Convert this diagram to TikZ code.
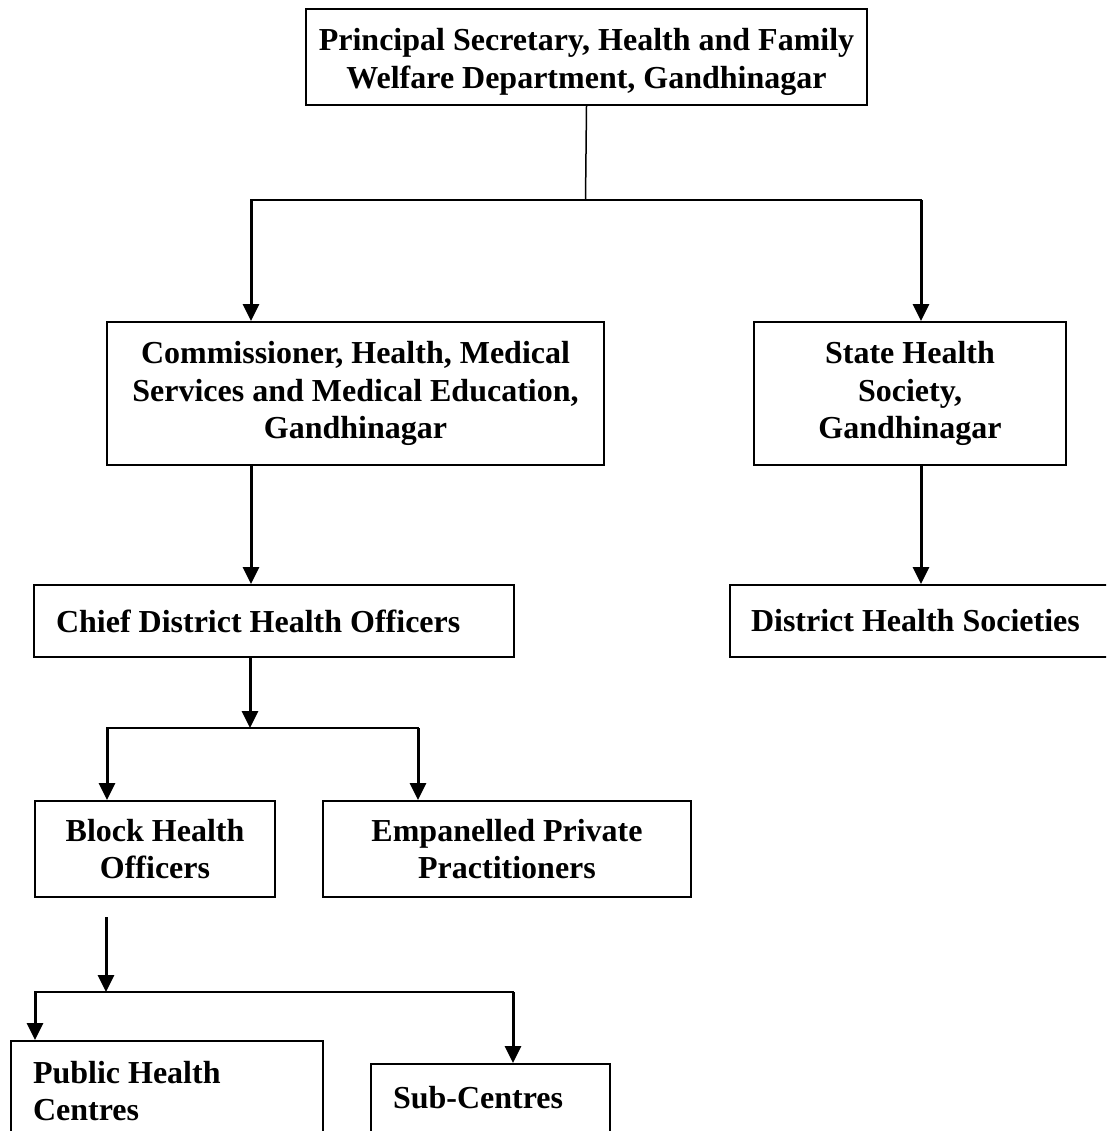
\documentclass[tikz,border=0pt]{standalone}
\usepackage{fontspec}
\setmainfont{Liberation Serif}
\usetikzlibrary{arrows.meta}
\begin{document}
\begin{tikzpicture}[x=1pt,y=-1pt,
  box/.style={draw, line width=2pt, align=center, font=\fontsize{32}{37.5}\selectfont\bfseries, inner sep=0pt},
  arr/.style={line width=3pt, -{Triangle[length=17pt,width=16pt]}},
  lnk/.style={line width=2pt, line cap=rect},
  thinlnk/.style={line width=1.5pt}]
\fill[white] (0,0) rectangle (1106,1131);
\useasboundingbox (0,0) rectangle (1106,1131);
\clip (0,0) rectangle (1106,1131);

\node[box, anchor=north west, minimum width=561pt, minimum height=96pt, text height=70pt] (top) at (305,8)
  {Principal Secretary, Health and Family\\Welfare Department, Gandhinagar};
\node[box, anchor=north west, minimum width=497pt, minimum height=143pt] (comm) at (106,321)
  {Commissioner, Health, Medical\\Services and Medical Education,\\Gandhinagar};
\node[box, anchor=north west, minimum width=312pt, minimum height=143pt] (shs) at (753,321)
  {State Health\\Society,\\Gandhinagar};
\node[box, anchor=north west, minimum height=72pt, text width=436pt, inner xsep=22pt, align=flush left] (chief) at (33,584)
  {Chief District Health Officers};
\node[box, anchor=north west, minimum height=72pt, text width=360pt, inner xsep=21pt, align=flush left] (dhs) at (729,584)
  {District Health Societies};
\node[box, anchor=north west, minimum width=240pt, minimum height=96pt] (block) at (34,800)
  {Block Health\\Officers};
\node[box, anchor=north west, minimum width=368pt, minimum height=96pt] (emp) at (322,800)
  {Empanelled Private\\Practitioners};
\node[box, anchor=north west, minimum height=100pt, text width=268pt, inner xsep=22pt, align=flush left] (phc) at (10,1040)
  {Public Health\\Centres};
\node[box, anchor=north west, text width=195pt, inner xsep=22pt, inner ysep=10pt, text height=34pt, text depth=60pt, align=flush left] (sub) at (370,1063)
  {Sub-Centres};

\coordinate (j1) at (585.5,200);
\coordinate (b1l) at (251,200);
\coordinate (b1r) at (921,200);
\draw[thinlnk] (top.south) -- (j1);
\draw[lnk] (b1l) -- (b1r);
\draw[arr] (b1l) -- (b1l |- comm.north);
\draw[arr] (b1r) -- (b1r |- shs.north);
\draw[arr] (comm.south -| b1l) -- (chief.north -| b1l);
\draw[arr] (shs.south -| b1r) -- (dhs.north -| b1r);

\coordinate (j2) at (250,728);
\coordinate (b2l) at (107,728);
\coordinate (b2r) at (418,728);
\draw[arr] (chief.south -| j2) -- (j2);
\draw[lnk] (b2l) -- (b2r);
\draw[arr] (b2l) -- (b2l |- block.north);
\draw[arr] (b2r) -- (b2r |- emp.north);

\coordinate (s3) at (106,917);
\coordinate (j3) at (106,992);
\coordinate (b3l) at (35,992);
\coordinate (b3r) at (513,992);
\draw[arr] (s3) -- (j3);
\draw[lnk] (b3l) -- (b3r);
\draw[arr] (b3l) -- (b3l |- phc.north);
\draw[arr] (b3r) -- (b3r |- sub.north);
\end{tikzpicture}
\end{document}
